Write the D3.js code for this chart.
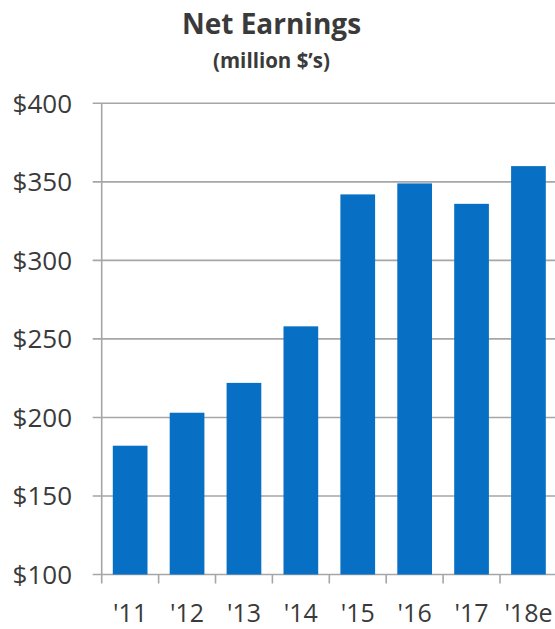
<!DOCTYPE html>
<html>
<head>
<meta charset="utf-8">
<script src="https://cdn.jsdelivr.net/npm/d3@7"></script>
<style>
  html, body { margin: 0; padding: 0; background: #fff; }
  svg { display: block; }
  text { font-family: "Open Sans", "Lato", sans-serif; fill: #3a3a3a; }
</style>
</head>
<body>
<svg id="chart" width="555" height="629"></svg>
<script>
// Net earnings by year, million dollars
const years = ["'11", "'12", "'13", "'14", "'15", "'16", "'17", "'18e"];
const earnings = [182, 203, 222, 258, 342, 349, 336, 360];
const yTicks = [100, 150, 200, 250, 300, 350, 400];

const svg = d3.select("#chart");
const plotLeft = 101.7, plotTop = 103.3, plotBottom = 574.5;
const step = 56.9;
const plotRight = plotLeft + step * years.length;

const x = d3.scaleBand().domain(years).range([plotLeft, plotRight]).padding(0);
const y = d3.scaleLinear().domain([100, 400]).range([plotBottom, plotTop]);
const barFrac = 0.61;

// gridlines with short ticks left of the axis
svg.append("g").selectAll("line").data(yTicks).join("line")
  .attr("x1", plotLeft - 9).attr("x2", 560)
  .attr("y1", d => y(d)).attr("y2", d => y(d))
  .attr("stroke", "#a6a6a6").attr("stroke-width", 1.6);

// bars
svg.append("g").selectAll("rect").data(earnings).join("rect")
  .attr("x", (d, i) => x(years[i]) + x.bandwidth() * (1 - barFrac) / 2)
  .attr("width", x.bandwidth() * barFrac)
  .attr("y", d => y(d))
  .attr("height", d => y(100) - y(d))
  .attr("fill", "#0870c4");

// y axis line
svg.append("line")
  .attr("x1", plotLeft).attr("x2", plotLeft)
  .attr("y1", plotTop).attr("y2", plotBottom + 9)
  .attr("stroke", "#a6a6a6").attr("stroke-width", 1.6);

// x category tick marks
svg.append("g").selectAll("line").data(years.slice(1)).join("line")
  .attr("x1", d => x(d)).attr("x2", d => x(d))
  .attr("y1", plotBottom).attr("y2", plotBottom + 9)
  .attr("stroke", "#a6a6a6").attr("stroke-width", 1.6);

// y labels
svg.append("g").selectAll("text").data(yTicks).join("text")
  .attr("x", 72).attr("y", d => y(d))
  .attr("dy", "0.36em")
  .attr("text-anchor", "end")
  .style("font-size", "26px")
  .text(d => "$" + d);

// x labels
svg.append("g").selectAll("text").data(years).join("text")
  .attr("x", d => x(d) + x.bandwidth() / 2)
  .attr("y", 622)
  .attr("text-anchor", "middle")
  .style("font-size", "25px")
  .text(d => d);

// titles
svg.append("text")
  .attr("x", 271.5).attr("y", 34)
  .attr("text-anchor", "middle")
  .style("font-size", "28px").style("font-weight", "bold")
  .text("Net Earnings");
svg.append("text")
  .attr("x", 271.5).attr("y", 68)
  .attr("text-anchor", "middle")
  .style("font-size", "20.5px").style("font-weight", "bold")
  .text("(million $\u2019s)");
</script>
</body>
</html>
